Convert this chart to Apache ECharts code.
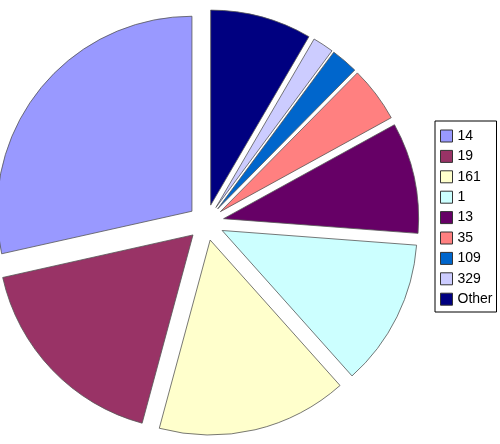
<!DOCTYPE html>
<html>
<head>
<meta charset="utf-8">
<style>
  html, body { margin: 0; padding: 0; background: #ffffff; }
  #chart { width: 500px; height: 444px; }
</style>
<script src="https://cdn.jsdelivr.net/npm/echarts@6/dist/echarts.min.js"></script>
</head>
<body>
<div id="chart"></div>
<script>
const categories = ['14', '19', '161', '1', '13', '35', '109', '329', 'Other'];
const values = [28.5, 17.3, 15.8, 12.2, 9.2, 4.6, 2.25, 1.75, 8.4];
const colors = ['#9999FF', '#993366', '#FFFFCC', '#CCFFFF', '#660066', '#FF8080', '#0066CC', '#CCCCFF', '#000080'];

const chart = echarts.init(document.getElementById('chart'), null, { renderer: 'canvas' });
const data = categories.map((c, i) => ({
  name: c,
  value: values[i],
  selected: true,
  itemStyle: { color: colors[i] }
}));

chart.setOption({
  animation: false,
  backgroundColor: '#ffffff',
  legend: {
    orient: 'vertical',
    left: 435,
    top: 121,
    padding: [8, 4, 5.8, 5],
    borderColor: '#000000',
    borderWidth: 1,
    itemWidth: 12,
    itemHeight: 12,
    itemGap: 6.4,
    selectedMode: false,
    icon: 'rect',
    itemStyle: { borderColor: '#333333', borderWidth: 1 },
    textStyle: {
      fontFamily: '"Liberation Sans", Arial, sans-serif',
      fontSize: 14,
      color: '#000000'
    },
    data: categories
  },
  series: [{
    type: 'pie',
    center: [206, 222.5],
    radius: [0, 195],
    startAngle: 90,
    clockwise: false,
    selectedMode: 'multiple',
    selectedOffset: 18,
    emphasis: { disabled: true },
    label: { show: false },
    labelLine: { show: false },
    itemStyle: { borderColor: '#555555', borderWidth: 0.8 },
    data: data
  }]
});
</script>
</body>
</html>
